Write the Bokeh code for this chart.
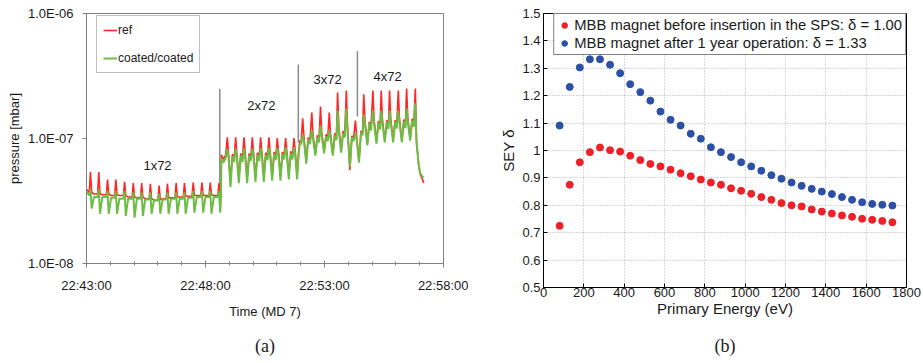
from bokeh.plotting import figure
from bokeh.models import FixedTicker, CustomJSTickFormatter, Title
from bokeh.layouts import row
from bokeh.embed import file_html
from bokeh.resources import INLINE
from bokeh.core.properties import value

# ---------------- Panel (a): pressure vs time ----------------
# time in seconds after 22:43:00, pressure in units of 1e-8 mbar
t_1x72 = [1, 7, 10, 13, 19, 28, 31, 34, 40, 50, 53, 56, 62, 71, 74, 77, 83,
          93, 96, 99, 105, 115, 118, 121, 127, 136, 139, 142, 148, 158, 161, 164, 170,
          180, 183, 186, 192, 201, 204, 207, 213, 223, 226, 229, 235, 244, 247, 250, 256,
          266, 269, 272, 278, 288, 291, 294, 300, 309, 312, 315, 321, 331, 334, 337, 339]
ref_1x72 = [3.9, 3.7, 5.4, 3.7, 3.6, 3.6, 5.4, 3.6, 3.55, 3.55, 4.7, 3.6, 3.5, 3.5, 4.7, 3.55, 3.5,
            3.5, 4.5, 3.5, 3.4, 3.4, 4.4, 3.4, 3.35, 3.35, 4.4, 3.4, 3.3, 3.3, 4.35, 3.3, 3.2,
            3.2, 4.2, 3.25, 3.3, 3.3, 4.35, 3.35, 3.35, 3.35, 4.4, 3.4, 3.4, 3.4, 4.4, 3.45, 3.45,
            3.45, 4.45, 3.5, 3.5, 3.5, 4.45, 3.5, 3.5, 3.5, 4.45, 3.55, 3.5, 3.5, 4.4, 3.6, 3.6]
coated_1x72 = [3.7, 3.5, 3.9, 2.75, 3.4, 3.4, 3.9, 2.5, 3.4, 3.4, 3.8, 2.5, 3.35, 3.35, 3.8, 2.5, 3.3,
               3.3, 3.8, 2.4, 3.3, 3.3, 3.7, 2.33, 3.3, 3.3, 3.7, 2.4, 3.25, 3.25, 3.7, 2.5, 3.2,
               3.2, 3.6, 2.5, 3.25, 3.25, 3.7, 2.5, 3.3, 3.3, 3.7, 2.5, 3.3, 3.3, 3.7, 2.5, 3.35,
               3.35, 3.8, 2.55, 3.4, 3.4, 3.8, 2.55, 3.4, 3.4, 3.8, 2.5, 3.4, 3.4, 3.8, 2.55, 3.3]

t_2x72 = [340, 345, 351, 355, 358, 363, 368, 372, 376, 379, 384, 389, 393, 397, 400, 405, 410, 414,
          418, 421, 426, 431, 435, 439, 442, 447, 452, 456, 460, 463, 468, 473, 477,
          481, 484, 489, 494, 498, 502, 505, 510, 515, 519, 523, 526, 531, 535, 538, 541]
ref_2x72 = [7.4, 6.8, 7.4, 10.2, 7.6, 4.6, 7.5, 6.8, 10.2, 7.6, 4.8, 7.6, 6.8, 10.2, 7.7, 4.8, 7.6, 6.9,
            10.2, 7.7, 4.9, 7.7, 6.9, 10.2, 7.8, 5.0, 7.7, 7.0, 10.2, 7.8, 5.0, 7.8, 7.0,
            10.1, 7.9, 5.1, 7.8, 7.1, 10.1, 7.9, 5.1, 7.9, 7.1, 10.1, 8.0, 5.0, 8.0, 9.6, 9.4]
coated_2x72 = [7.0, 6.4, 7.0, 8.2, 7.1, 4.1, 7.2, 6.5, 8.3, 7.1, 4.4, 7.3, 6.5, 8.3, 7.2, 4.4, 7.3, 6.6,
               8.3, 7.2, 4.5, 7.4, 6.6, 8.4, 7.3, 4.5, 7.4, 6.7, 8.4, 7.3, 4.6, 7.5, 6.7,
               8.4, 7.4, 4.6, 7.5, 6.8, 8.5, 7.4, 4.7, 7.6, 6.8, 8.5, 7.5, 4.7, 7.6, 9.2, 9.0]

t_3x72 = [545, 548, 554, 559, 563, 568, 571, 577, 582, 586, 590, 593, 599, 604, 608,
          612, 615, 621, 626, 630, 633, 636, 642, 647, 651, 655, 658, 664, 669, 673,
          678, 681, 687, 692, 696]
ref_3x72 = [14.5, 10.4, 6.6, 10.2, 9.3, 16.1, 10.8, 7.6, 10.6, 9.6, 18.0, 11.2, 7.9, 10.8, 9.8,
            16.1, 11.0, 7.6, 11.0, 10.0, 23.3, 12.5, 8.0, 11.5, 10.5, 24.2, 12.5, 5.6, 10.5, 9.8,
            13.9, 10.4, 6.6, 11.5, 11.0]
coated_3x72 = [10.6, 9.6, 6.3, 9.8, 9.0, 11.6, 10.0, 7.3, 10.2, 9.3, 12.7, 10.4, 7.6, 10.4, 9.5,
               11.6, 10.2, 7.3, 10.6, 9.7, 16.7, 11.6, 7.7, 11.0, 10.2, 17.4, 11.6, 5.95, 10.2, 9.5,
               11.0, 9.8, 6.4, 11.2, 10.6]

t_4x72 = [699, 702, 708, 713, 717, 722, 725, 731, 736, 740, 743, 746, 752, 757, 761,
          764, 767, 773, 778, 782, 786, 789, 795, 800, 804, 807, 810, 816, 821, 825,
          829, 832, 838, 842, 846, 850]
ref_4x72 = [22.6, 14.0, 9.1, 13.6, 12.0, 24.2, 14.2, 9.4, 13.8, 12.2, 24.2, 14.2, 9.6, 14.0, 12.3,
            24.2, 14.3, 9.6, 14.0, 12.4, 24.2, 14.4, 9.6, 14.2, 12.5, 25.1, 14.6, 9.9, 14.4, 12.8,
            25.1, 9.5, 5.9, 5.1, 4.8, 4.4]
coated_4x72 = [15.5, 13.0, 8.8, 13.2, 11.6, 16.7, 13.2, 9.1, 13.4, 11.8, 16.7, 13.3, 9.3, 13.5, 11.9,
               16.7, 13.4, 9.3, 13.6, 12.0, 16.7, 13.5, 9.3, 13.7, 12.1, 17.4, 13.6, 9.6, 13.9, 12.4,
               19.1, 9.2, 6.0, 5.2, 5.0, 4.9]

# injection markers (time, bottom and top pressure in mbar)
marker_t = [336, 534, 683]
marker_bottom = [3.7e-8, 9.3e-8, 1.5e-7]
marker_top = [2.5e-7, 3.9e-7, 5.0e-7]

# train annotations
train_text = ["1x72", "2x72", "3x72", "4x72"]
train_t = [179, 441, 608, 759]
train_p = [6.1e-8, 1.84e-7, 2.96e-7, 3.13e-7]

time_tick_values = [0, 300, 600, 900]
time_tick_labels = ["22:43:00", "22:48:00", "22:53:00", "22:58:00"]
p_tick_values = [1e-8, 1e-7, 1e-6]
p_tick_labels = ["1.0E-08", "1.0E-07", "1.0E-06"]

# ---------------- Panel (b): SEY vs energy ----------------
energy = [80, 130, 180, 230, 280, 330, 380, 430, 480, 530, 580, 630, 680, 730, 780, 830, 880,
          930, 980, 1030, 1080, 1130, 1180, 1230, 1280, 1330, 1380, 1430, 1480, 1530, 1580,
          1630, 1680, 1730]
sey_before = [0.725, 0.875, 0.957, 0.994, 1.011, 1.001, 0.996, 0.981, 0.965, 0.951, 0.942,
              0.930, 0.917, 0.906, 0.894, 0.883, 0.875, 0.862, 0.853, 0.842, 0.830, 0.820,
              0.808, 0.800, 0.796, 0.785, 0.777, 0.770, 0.763, 0.758, 0.751, 0.747, 0.743, 0.738]
sey_after = [1.091, 1.232, 1.303, 1.333, 1.333, 1.313, 1.282, 1.242, 1.213, 1.182, 1.142,
             1.112, 1.091, 1.061, 1.043, 1.012, 0.994, 0.976, 0.957, 0.942, 0.926, 0.910,
             0.897, 0.883, 0.871, 0.860, 0.850, 0.841, 0.830, 0.820, 0.811, 0.805, 0.802, 0.799]

energy_ticks = [0, 200, 400, 600, 800, 1000, 1200, 1400, 1600, 1800]
sey_ticks = [0.5, 0.6, 0.7, 0.8, 0.9, 1.0, 1.1, 1.2, 1.3, 1.4, 1.5]
sey_tick_labels = ["0.5", "0.6", "0.7", "0.8", "0.9", "1", "1.1", "1.2", "1.3", "1.4", "1.5"]

FONT = "Liberation Sans"
SERIF = "Liberation Serif"


def lookup_formatter(vals, labs, log=False):
    code = """
    let best = 0, d = Infinity;
    for (let i = 0; i < vals.length; i++) {
        const dd = LOG ? Math.abs(Math.log10(tick) - Math.log10(vals[i])) : Math.abs(tick - vals[i]);
        if (dd < d) { d = dd; best = i; }
    }
    return labs[best];
    """.replace("LOG", "true" if log else "false")
    return CustomJSTickFormatter(args=dict(vals=vals, labs=labs), code=code)


# common borders (plots in a row get their borders aligned); bottom border
# is generous so that its contents never push the frame
TOP = 13
BOTTOM = 115

# ---------- figure (a) ----------
scale = 1e-8
t_all = t_1x72 + t_2x72 + t_3x72 + t_4x72
ref_all = [v * scale for v in ref_1x72 + ref_2x72 + ref_3x72 + ref_4x72]
coated_all = [v * scale for v in coated_1x72 + coated_2x72 + coated_3x72 + coated_4x72]

p1 = figure(width=468, height=TOP + 250 + BOTTOM, x_range=(0, 900), y_range=(1e-8, 1e-6),
            y_axis_type="log", output_backend="svg", toolbar_location=None, title=None,
            min_border_left=86, min_border_right=25, min_border_top=TOP, min_border_bottom=BOTTOM)
p1.xgrid.visible = False
p1.ygrid.visible = False
p1.outline_line_color = "#808080"
p1.outline_line_width = 1

p1.segment(x0=marker_t, y0=marker_bottom, x1=marker_t, y1=marker_top,
           line_color="#8c8c8c", line_width=1.5)
p1.line(t_all, ref_all, line_color="#ff2626", line_width=1.6, legend_label="ref")
p1.line(t_all, coated_all, line_color="#6dbd45", line_width=2.0, legend_label="coated/coated")
p1.text(x=train_t, y=train_p, text=train_text, text_align="center", text_baseline="middle",
        text_font=value(FONT), text_font_size="13px", text_color="#1a1a1a")

minor_seconds = [s for s in range(60, 900, 60) if s % 300 != 0]
p1.xaxis.ticker = FixedTicker(ticks=time_tick_values, minor_ticks=minor_seconds)
p1.xaxis.formatter = lookup_formatter(time_tick_values, time_tick_labels)
p1.yaxis.ticker = FixedTicker(ticks=p_tick_values, minor_ticks=[])
p1.yaxis.formatter = lookup_formatter(p_tick_values, p_tick_labels, log=True)

for ax in (p1.xaxis[0], p1.yaxis[0]):
    ax.axis_line_color = "#808080"
    ax.major_tick_line_color = "#808080"
    ax.minor_tick_line_color = "#808080"
    ax.major_label_text_font = FONT
    ax.major_label_text_font_size = "13px"
    ax.major_label_text_color = "#1a1a1a"
    ax.axis_label_text_font = FONT
    ax.axis_label_text_font_size = "13px"
    ax.axis_label_text_font_style = "normal"
    ax.axis_label_text_color = "#1a1a1a"

p1.xaxis.axis_label = "Time (MD 7)"
p1.xaxis.major_tick_in = 3
p1.xaxis.major_tick_out = 4
p1.xaxis.minor_tick_in = 2
p1.xaxis.minor_tick_out = 2
p1.xaxis.major_label_standoff = 10
p1.xaxis.axis_label_standoff = 8

p1.yaxis.axis_label = "pressure [mbar]"
p1.yaxis.major_tick_in = 0
p1.yaxis.major_tick_out = 4
p1.yaxis.major_label_standoff = 9
p1.yaxis.axis_label_standoff = 3

lg1 = p1.legend[0]
lg1.location = (10, 190)
lg1.border_line_color = "#808080"
lg1.border_line_width = 1
lg1.background_fill_color = "white"
lg1.background_fill_alpha = 1
lg1.label_text_font = FONT
lg1.label_text_font_size = "12px"
lg1.label_text_color = "#1a1a1a"
lg1.glyph_width = 14
lg1.glyph_height = 16
lg1.label_height = 16
lg1.label_standoff = 1
lg1.spacing = 12
lg1.padding = 6
lg1.margin = 0

p1.add_layout(Title(text="(a)", align="center", text_font=SERIF, text_font_size="18px",
                    text_font_style="normal", text_color="#1a1a1a", standoff=24), "below")

# ---------- figure (b) ----------
p2 = figure(width=455, height=TOP + 274 + BOTTOM, x_range=(0, 1800), y_range=(0.5, 1.5),
            output_backend="svg", toolbar_location=None, title=None,
            min_border_left=75, min_border_right=17, min_border_top=TOP, min_border_bottom=BOTTOM)
p2.outline_line_color = "black"
p2.outline_line_width = 1
p2.grid.grid_line_color = "#b0b0b0"
p2.grid.grid_line_dash = "1 2"
p2.grid.grid_line_width = 1

p2.scatter(energy, sey_before, size=7, fill_color="#ee2028", line_color="#ee2028",
           legend_label="MBB magnet before insertion in the SPS: \u03b4 = 1.00")
p2.scatter(energy, sey_after, size=7, fill_color="#2c50a6", line_color="#2c50a6",
           legend_label="MBB magnet after 1 year operation: \u03b4 = 1.33")

p2.xaxis.ticker = FixedTicker(ticks=energy_ticks, minor_ticks=[])
p2.yaxis.ticker = FixedTicker(ticks=sey_ticks, minor_ticks=[])
p2.yaxis.formatter = lookup_formatter(sey_ticks, sey_tick_labels)

for ax in (p2.xaxis[0], p2.yaxis[0]):
    ax.axis_line_color = "black"
    ax.major_tick_line_color = "black"
    ax.major_tick_in = 4
    ax.major_tick_out = 0
    ax.major_label_text_font = FONT
    ax.major_label_text_font_size = "13px"
    ax.major_label_text_color = "#1a1a1a"
    ax.axis_label_text_font = FONT
    ax.axis_label_text_font_size = "15px"
    ax.axis_label_text_font_style = "normal"
    ax.axis_label_text_color = "#1a1a1a"

p2.xaxis.axis_label = "Primary Energy (eV)"
p2.xaxis.major_label_standoff = 0
p2.xaxis.axis_label_standoff = 0
p2.yaxis.axis_label = "SEY \u03b4"
p2.yaxis.major_label_standoff = 3
p2.yaxis.axis_label_standoff = 2

lg2 = p2.legend[0]
lg2.location = "top_right"
lg2.margin = 0
lg2.border_line_color = "black"
lg2.border_line_width = 1
lg2.background_fill_color = "white"
lg2.background_fill_alpha = 1
lg2.label_text_font = FONT
lg2.label_text_font_size = "14.8px"
lg2.label_text_color = "#1a1a1a"
lg2.glyph_width = 14
lg2.glyph_height = 16
lg2.label_height = 16
lg2.label_standoff = 3
lg2.spacing = 2
lg2.padding = 3

p2.add_layout(Title(text="(b)", align="center", text_font=SERIF, text_font_size="18px",
                    text_font_style="normal", text_color="#1a1a1a", standoff=29), "below")

layout = row(p1, p2)
open("out.html", "w").write(file_html(layout, INLINE))
